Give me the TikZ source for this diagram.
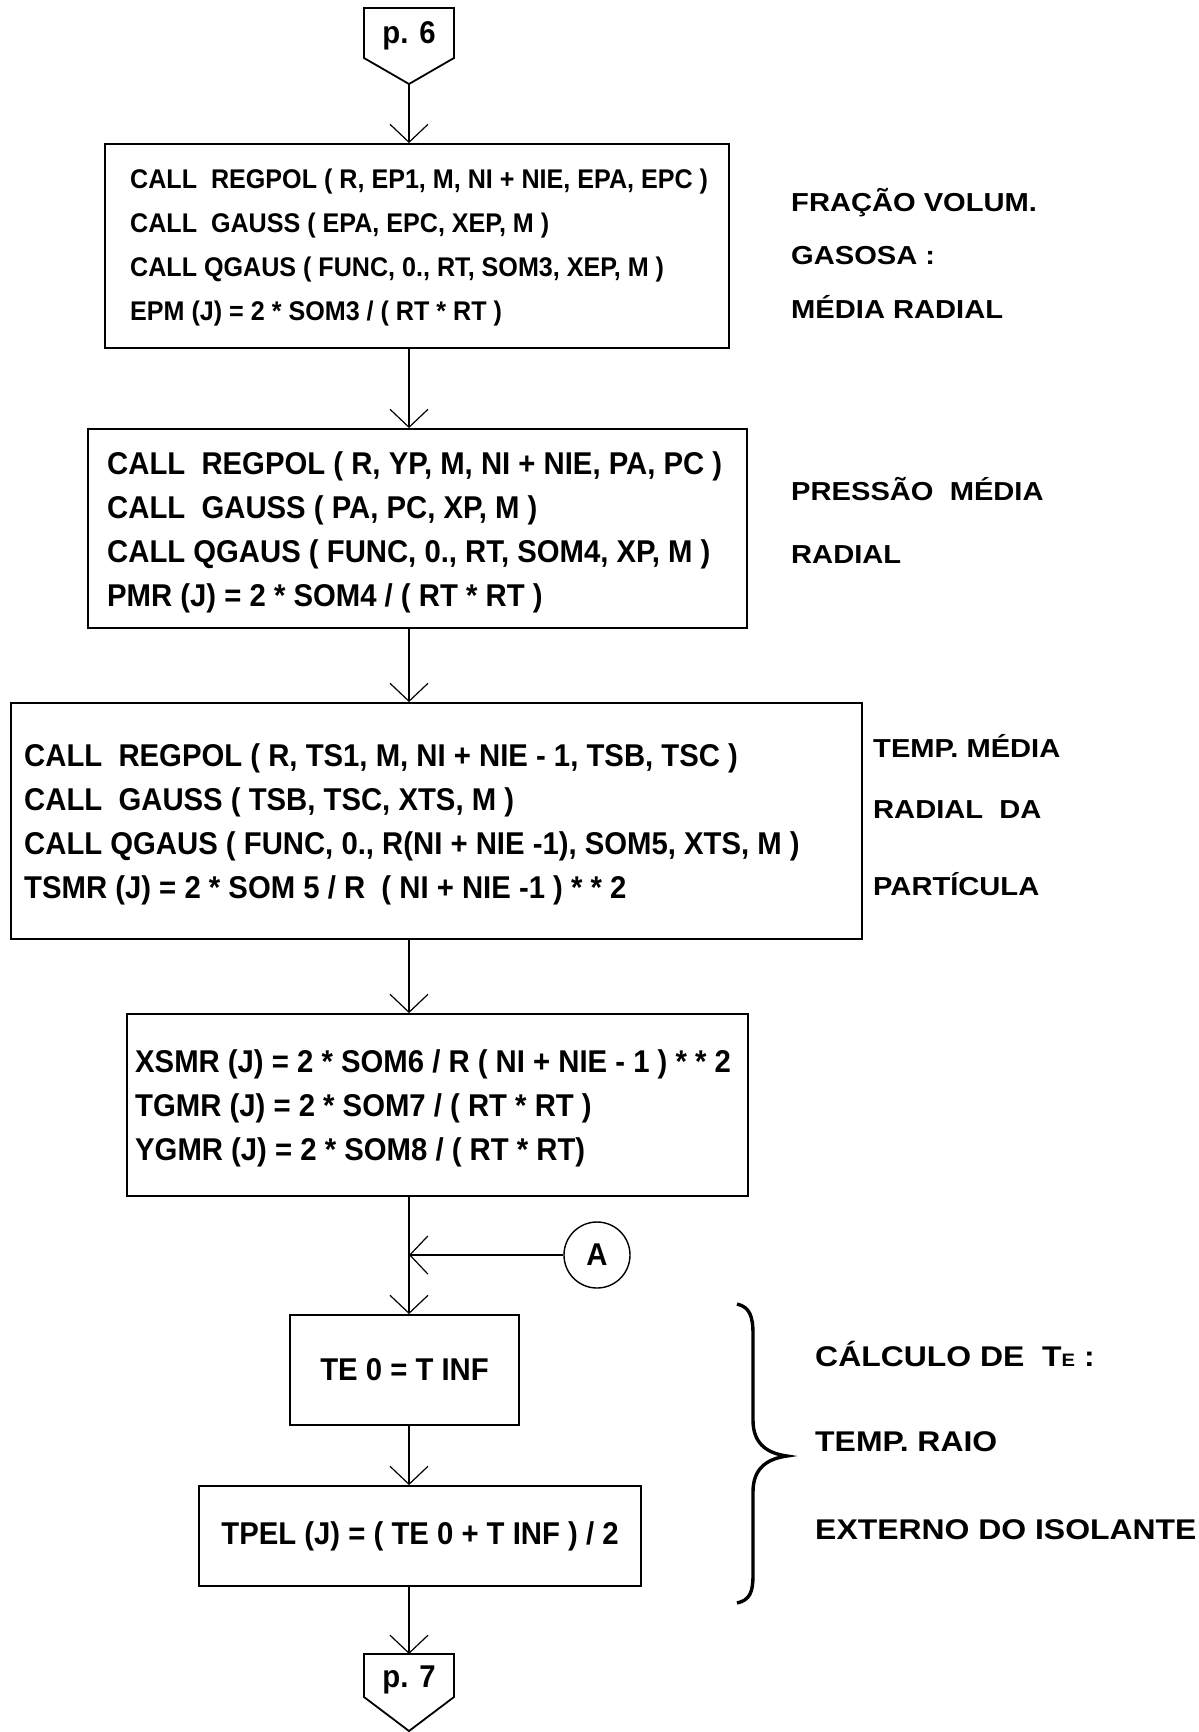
\documentclass[tikz,border=0pt]{standalone}
\usepackage{fontspec}
\setmainfont{Liberation Sans}
\newfontfamily\codeface{Liberation Sans}[FakeStretch=0.93]
\newfontfamily\noteface{Liberation Sans}[FakeStretch=1.12]
\usetikzlibrary{arrows.meta,calc,positioning}
\newcommand{\codefont}{\codeface\bfseries\fontsize{31.5}{44}\selectfont}
\newcommand{\smallcodefont}{\codeface\bfseries\fontsize{27}{44}\selectfont}
\newcommand{\notefont}{\noteface\bfseries\fontsize{26}{30}\selectfont}
\newcommand{\bracefont}{\noteface\bfseries\fontsize{28.5}{30}\selectfont}

\begin{document}
\begin{tikzpicture}[x=1pt,y=-1pt,
 box/.style={draw,line width=1.8pt,inner sep=0pt},
 code/.style={anchor=west,align=left,inner sep=0pt,font=\codefont},
 note/.style={anchor=west,inner sep=0pt,font=\notefont},
 flow/.style={line width=1.2pt,-{Straight Barb[length=18pt,width=38pt]}}]
 \useasboundingbox (0,0) rectangle (1199,1732);
 \draw[line width=1.8pt](364,8)--(454,8)--(454,58)--(409,84)--(364,58)--cycle;
 \node[font=\codefont,inner sep=0pt](p6)at(409,36){p. 6};
 \coordinate(p6tip)at(409,84);
 \node[box,minimum width=624,minimum height=204](box1)at(417,246){};
 \node[code,font=\smallcodefont](code1)at(130,248){CALL\ \ REGPOL ( R, EP1, M, NI + NIE, EPA, EPC )\\CALL\ \ GAUSS ( EPA, EPC, XEP, M )\\CALL QGAUS ( FUNC, 0., RT, SOM3, XEP, M )\\EPM (J) = 2 * SOM3 / ( RT * RT )};
 \node[box,minimum width=659,minimum height=199](box2)at(417.5,528.5){};
 \node[code](code2)at(107,532){CALL\ \ REGPOL ( R, YP, M, NI + NIE, PA, PC )\\CALL\ \ GAUSS ( PA, PC, XP, M )\\CALL QGAUS ( FUNC, 0., RT, SOM4, XP, M )\\PMR (J) = 2 * SOM4 / ( RT * RT )};
 \node[box,minimum width=851,minimum height=236](box3)at(436.5,821){};
 \node[code](code3)at(24,824){CALL\ \ REGPOL ( R, TS1, M, NI + NIE - 1, TSB, TSC )\\CALL\ \ GAUSS ( TSB, TSC, XTS, M )\\CALL QGAUS ( FUNC, 0., R(NI + NIE -1), SOM5, XTS, M )\\TSMR (J) = 2 * SOM 5 / R\ \ ( NI + NIE -1 ) * * 2};
 \node[box,minimum width=621,minimum height=182](box4)at(437.5,1105){};
 \node[code](code4)at(135,1108){XSMR (J) = 2 * SOM6 / R ( NI + NIE - 1 ) * * 2\\TGMR (J) = 2 * SOM7 / ( RT * RT )\\YGMR (J) = 2 * SOM8 / ( RT * RT)};
 \node[draw,circle,line width=1.4pt,minimum size=66pt,inner sep=0pt,font=\codefont](A)at(597,1255){A};
 \node[box,minimum width=229,minimum height=110,font=\codefont](te0)at(404.5,1370){TE 0 = T INF};
 \node[box,minimum width=442,minimum height=100,font=\codefont](tpel)at(420,1536){TPEL (J) = ( TE 0 + T INF ) / 2};
 \draw[line width=1.8pt](364,1654)--(454,1654)--(454,1697)--(409,1731)--(364,1697)--cycle;
 \node[font=\codefont,inner sep=0pt](p7)at(409,1680){p. 7};
 \coordinate(p7top)at(409,1654);
 \draw[flow](p6tip)--(p6tip|-box1.north);
 \draw[flow](box1.south-|p6tip)--(p6tip|-box2.north);
 \draw[flow](box2.south-|p6tip)--(p6tip|-box3.north);
 \draw[flow](box3.south-|p6tip)--(p6tip|-box4.north);
 \draw[flow](box4.south-|p6tip)--(p6tip|-te0.north);
 \draw[flow](A.west)--(A.west-|p6tip);
 \draw[flow](te0.south-|p6tip)--(p6tip|-tpel.north);
 \draw[flow](tpel.south-|p6tip)--(p7top);
 \foreach \y/\t in {203/FRAÇÃO VOLUM.,256/GASOSA :,307/MÉDIA RADIAL,489/PRESSÃO\ \ MÉDIA,555/RADIAL}{
  \node[note](n\y)at(791,\y){\t};}
 \foreach \y/\t in {746/TEMP. MÉDIA,810/RADIAL\ \ DA,884/PARTÍCULA}{
  \node[note](n\y)at(873,\y){\t};}
 \draw[line width=3.4pt](737,1304)..controls(750,1307)and(753,1317)..(753,1334)--(753,1420)
  ..controls(753,1442)and(765,1453)..(787,1456)..controls(765,1459)and(753,1470)..(753,1492)
  --(753,1575)..controls(753,1592)and(750,1600)..(737,1603);
 \node[note,font=\bracefont](te)at(815,1354){CÁLCULO DE\ \ T{\fontsize{18}{18}\selectfont E} :};
 \node[note,font=\bracefont](raio)at(815,1442){TEMP. RAIO};
 \node[note,font=\bracefont](ext)at(815,1530){EXTERNO DO ISOLANTE};
\end{tikzpicture}
\end{document}
